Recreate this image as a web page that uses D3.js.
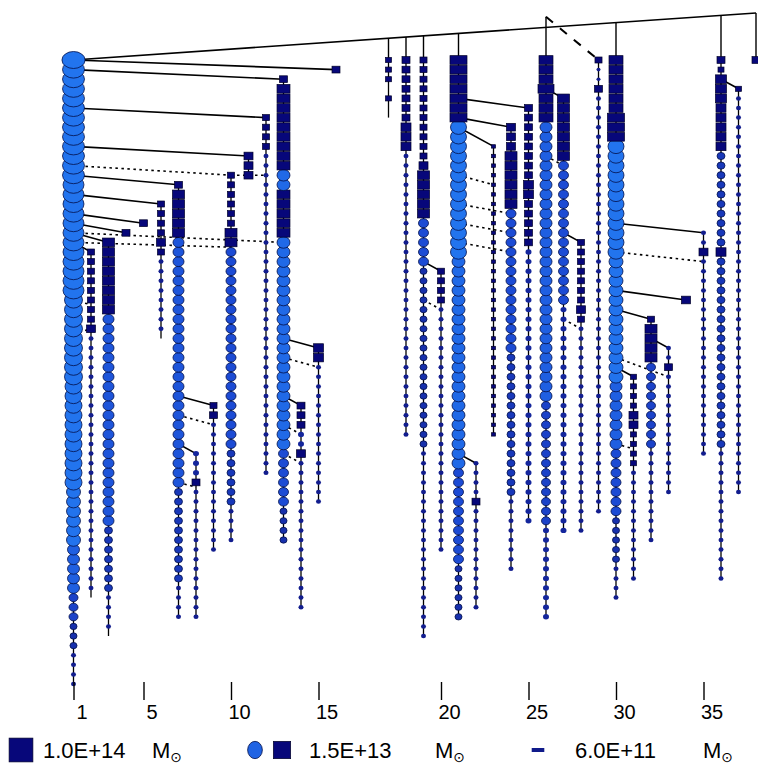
<!DOCTYPE html>
<html><head><meta charset="utf-8">
<script src="https://cdn.jsdelivr.net/npm/d3@7"></script>
<style>body{margin:0;background:#fff}svg{display:block}</style>
</head><body>
<script>
// Branch columns: [slot, first snapshot, last snapshot]
const branches = [
  [1,0,65],[2,20,56],[3,19,60],[4,18,18],[5,17,17],[6,15,29],[7,13,58],[8,41,58],[9,36,51],[10,12,50],
  [11,10,12],[12,6,43],[13,2,50],[14,36,57],[15,30,46],[16,1,1],
  [19,0,6],[20,0,39],[21,0,60],[22,22,51],[23,0,58],[24,42,57],[25,9,39],[26,7,53],[27,5,48],[28,0,58],
  [29,4,49],[30,19,49],[31,0,47],[32,0,56],[33,33,54],[34,27,50],[35,30,45],[36,25,25],[37,18,41],
  [38,0,54],[39,3,45],[40,0,0]
];

// Halo runs along each branch: [slot, from snapshot, to snapshot, shape, mass in Msun]
const segments = [
  [1,0,0,"ci",1.2e15],[1,1,12,"ci",7.7e14],[1,13,24,"ci",5.1e14],[1,25,33,"ci",1.5e14],[1,34,44,"ci",1.0e14],
  [1,45,50,"ci",2.9e13],[1,51,55,"ci",1.3e13],[1,56,58,"ci",3.8e12],[1,59,61,"ci",1.7e12],[1,62,65,"ci",7.4e11],
  [2,20,27,"sq",1.7e12],[2,28,28,"sq",3.8e12],[2,29,55,"ci",7.4e11],
  [3,19,26,"sq",1.3e13],[3,27,48,"ci",8.6e12],[3,49,55,"ci",2.5e12],[3,56,59,"ci",7.4e11],
  [4,18,18,"sq",2.5e12],[5,17,17,"sq",2.5e12],
  [6,15,18,"sq",1.7e12],[6,19,19,"sq",3.8e12],[6,20,20,"sq",1.7e12],[6,21,28,"ci",7.4e11],
  [7,13,13,"sq",2.5e12],[7,14,18,"sq",1.3e13],[7,19,44,"ci",8.6e12],[7,45,54,"ci",2.5e12],[7,55,58,"ci",7.4e11],
  [8,41,43,"ci",1.1e12],[8,44,44,"sq",2.5e12],[8,45,58,"ci",7.4e11],
  [9,36,36,"sq",1.7e12],[9,37,37,"sq",2.5e12],[9,38,51,"ci",7.4e11],
  [10,12,17,"sq",1.7e12],[10,18,19,"sq",1.3e13],[10,20,40,"ci",5.7e12],[10,41,46,"ci",2.5e12],[10,47,50,"ci",7.4e11],
  [11,10,12,"sq",3.8e12],
  [12,6,9,"sq",1.7e12],[12,10,43,"ci",7.4e11],
  [13,2,2,"sq",2.5e12],[13,3,11,"sq",1.9e13],[13,12,13,"ci",1.9e13],[13,14,18,"sq",1.9e13],[13,19,40,"ci",1.9e13],
  [13,41,46,"ci",5.7e12],[13,47,50,"ci",1.7e12],
  [14,36,38,"sq",2.5e12],[14,39,40,"ci",1.1e12],[14,41,41,"sq",3.8e12],[14,42,57,"ci",7.4e11],
  [15,30,31,"sq",5.7e12],[15,32,46,"ci",7.4e11],
  [16,1,1,"sq",2.5e12],
  [19,0,2,"sq",1.1e12],[19,4,4,"sq",1.1e12],
  [20,0,6,"sq",2.5e12],[20,7,9,"sq",5.7e12],[20,10,39,"ci",7.4e11],
  [21,0,10,"sq",1.7e12],[21,11,11,"sq",3.8e12],[21,12,16,"sq",1.3e13],[21,17,21,"ci",5.7e12],[21,22,40,"ci",1.7e12],[21,41,60,"ci",7.4e11],
  [22,22,25,"sq",1.7e12],[22,26,51,"ci",7.4e11],
  [23,0,6,"sq",1.0e14],[23,7,20,"ci",6.6e13],[23,21,42,"ci",1.9e13],[23,43,52,"ci",5.7e12],[23,53,58,"ci",1.7e12],
  [24,42,45,"ci",7.4e11],[24,46,46,"sq",2.5e12],[24,47,57,"ci",7.4e11],
  [25,9,39,"sq",4.9e11],
  [26,7,9,"sq",3.8e12],[26,10,15,"sq",1.3e13],[26,16,30,"ci",5.7e12],[26,31,45,"ci",2.5e12],[26,46,53,"ci",7.4e11],
  [27,5,12,"sq",2.5e12],[27,13,14,"sq",5.7e12],[27,15,19,"sq",2.5e12],[27,20,48,"ci",1.1e12],
  [28,0,2,"sq",2.9e13],[28,3,3,"sq",6.6e13],[28,4,6,"sq",2.9e13],[28,7,35,"ci",1.3e13],[28,36,48,"ci",3.8e12],[28,49,58,"ci",1.1e12],
  [29,4,10,"sq",1.3e13],[29,11,25,"ci",5.7e12],[29,26,49,"ci",1.1e12],
  [30,19,25,"sq",1.7e12],[30,26,26,"sq",3.8e12],[30,27,27,"sq",1.7e12],[30,28,49,"ci",7.4e11],
  [31,0,0,"sq",1.7e12],[31,1,2,"ci",4.9e11],[31,3,3,"sq",2.5e12],[31,4,47,"ci",7.4e11],
  [32,0,5,"sq",2.9e13],[32,6,8,"sq",1.0e14],[32,9,20,"ci",6.6e13],[32,21,33,"ci",2.9e13],[32,34,40,"ci",1.3e13],
  [32,41,47,"ci",5.7e12],[32,48,52,"ci",1.7e12],[32,53,56,"ci",7.4e11],
  [33,33,36,"sq",1.1e12],[33,37,38,"sq",3.8e12],[33,39,42,"sq",1.1e12],[33,43,54,"ci",7.4e11],
  [34,27,27,"sq",1.7e12],[34,28,31,"sq",1.3e13],[34,32,40,"ci",3.8e12],[34,41,50,"ci",7.4e11],
  [35,30,31,"ci",7.4e11],[35,32,32,"sq",2.5e12],[35,33,45,"ci",7.4e11],
  [36,25,25,"sq",3.8e12],
  [37,18,19,"ci",7.4e11],[37,20,20,"sq",3.8e12],[37,21,41,"ci",7.4e11],
  [38,0,0,"sq",2.5e12],[38,1,1,"sq",1.1e12],[38,2,4,"sq",8.6e12],[38,5,9,"sq",5.7e12],[38,10,19,"ci",2.5e12],
  [38,20,20,"sq",5.7e12],[38,21,40,"ci",2.5e12],[38,41,54,"ci",7.4e11],
  [39,3,3,"sq",1.1e12],[39,4,45,"ci",7.4e11],
  [40,0,0,"sq",2.5e12]
];

// Progenitor links: [descendant slot, snapshot, progenitor slot, snapshot, style]
const links = [
  [1,0,16,1,"s"],[1,1,13,2,"s"],[1,5,12,6,"s"],[1,9,11,10,"s"],[1,11,10,12,"d"],[10,12,12,12,"d"],
  [1,12,7,13,"s"],[1,14,6,15,"s"],[1,16,5,17,"s"],[1,17,4,18,"s"],[1,18,3,19,"s"],[1,19,2,20,"s"],
  [1,18,13,19,"d"],[1,19,10,19.5,"d"],[1,25,2,25.5,"d"],[1,28.5,2,28,"d"],
  [7,35,9,36,"s"],[7,37,9,38,"d"],[7,40,8,41,"s"],[7,44,8,44.5,"d"],
  [13,29,15,30,"s"],[13,31,15,32,"d"],[13,35,14,36,"s"],[13,38,14,39,"d"],[13,41,14,42,"d"],
  [21,21,22,22,"s"],[21,25,22,26,"d"],
  [23,4,27,5,"s"],[23,6,26,7,"s"],[23,7,25,9,"s"],[23,12,25,13,"d"],[23,15,26,16,"d"],[23,17,26,18,"d"],
  [23,19,26,20,"d"],[23,41,24,42,"s"],
  [28,3,29,4,"s"],[28,10,29,11,"d"],[29,18,30,19,"s"],[29,27,30,28,"d"],
  [32,17,37,18,"s"],[32,20,37,21,"d"],[32,24,36,25,"s"],[32,26,34,27,"s"],[32,31,35,33,"d"],
  [32,32,33,33,"s"],[32,40,33,40.5,"d"],[34,29,35,30,"s"],
  [38,2,39,3,"s"],
  [28,-4.5,31,0,"D"]
];

// Root branches hanging from the top line, and the raised node of slot 28
const roots = [19,20,21,23,32,38,40];
const raised = [[28,-4.5]];
const spine = [[1,0],[40,-4.9]];

// Axis ticks (slot positions) and their labels
const tickSlots = [1,5,10,15,22,27,32,37];
const tickLabels = ["1","5","10","15","20","25","30","35"];

// Legend entries
const legendMasses = [1.0e14, 1.5e13, 6.0e11];
const legendLabels = ["1.0E+14", "1.5E+13", "6.0E+11"];

const W = 758, H = 774;
const svg = d3.select("body").append("svg").attr("width", W).attr("height", H)
  .style("font-family", "'Liberation Sans', Arial, Helvetica, sans-serif");

const x = d3.scaleLinear().domain([1, 40]).range([73.5, 756]);
const y = d3.scaleLinear().domain([0, 65]).range([60, 684]);
const size = d3.scaleLog().domain([6e11, 1e14]).range([4.5, 17]);
const circleFill = d3.scaleLog().domain([7e11, 5e12, 3e13]).range(["#121c8c", "#1c48d2", "#2274ee"]).clamp(true);
const step = y(1) - y(0);

const lines = svg.append("g").attr("stroke", "#000").attr("fill", "none");

// top line joining all final halos
const spineY = s => y(spine[0][1] + (spine[1][1] - spine[0][1]) * (s - spine[0][0]) / (spine[1][0] - spine[0][0]));
lines.append("line")
  .attr("x1", x(spine[0][0])).attr("y1", y(spine[0][1]))
  .attr("x2", x(spine[1][0])).attr("y2", y(spine[1][1]))
  .attr("stroke-width", 1.6);
lines.selectAll(".root").data(roots).join("line")
  .attr("x1", d => x(d)).attr("x2", d => x(d))
  .attr("y1", d => spineY(d)).attr("y2", y(0)).attr("stroke-width", 1.4);
lines.selectAll(".raised").data(raised).join("line")
  .attr("x1", d => x(d[0])).attr("x2", d => x(d[0]))
  .attr("y1", d => y(d[1])).attr("y2", y(0)).attr("stroke-width", 1.4);

// branch stems
lines.selectAll(".stem").data(branches.filter(b => b[2] > b[1])).join("line")
  .attr("x1", d => x(d[0])).attr("x2", d => x(d[0]))
  .attr("y1", d => y(d[1])).attr("y2", d => y(d[2]))
  .attr("stroke-width", 1.3);

// progenitor links
lines.selectAll(".link").data(links).join("line")
  .attr("x1", d => x(d[0])).attr("y1", d => y(d[1]))
  .attr("x2", d => x(d[2])).attr("y2", d => y(d[3]))
  .attr("stroke-width", d => d[4] === "D" ? 2 : 1.6)
  .attr("stroke-dasharray", d => d[4] === "d" ? "2.5,3.5" : d[4] === "D" ? "9,9" : null);

// halo markers, drawn from the bottom of each branch upward
const marks = [];
segments.forEach(([s, a, b, shape, m]) => {
  for (let k = b; k >= a; k--) marks.push({ s, k, shape, m });
});
marks.sort((p, q) => p.s - q.s || q.k - p.k);

const mg = svg.append("g");
mg.selectAll("g").data(marks).join("g").each(function (d) {
  const g = d3.select(this);
  const w = size(d.m);
  if (d.shape === "sq") {
    const h = Math.min(w * 0.85, step - 0.9);
    g.append("rect")
      .attr("x", x(d.s) - w / 2).attr("y", y(d.k) - h / 2)
      .attr("width", w).attr("height", h)
      .attr("fill", "#07077a").attr("stroke", "#000028").attr("stroke-width", 0.7);
  } else {
    const rx = w / 2, ry = Math.min(rx * 0.9, 8.5);
    g.append("ellipse")
      .attr("cx", x(d.s)).attr("cy", y(d.k)).attr("rx", rx).attr("ry", ry)
      .attr("fill", circleFill(d.m))
      .attr("stroke", w > 6 ? "#04104a" : "none").attr("stroke-width", 0.8);
  }
});

// axis
const axis = d3.axisBottom(x).tickValues(tickSlots)
  .tickFormat((d, i) => tickLabels[i]).tickSize(18).tickPadding(5);
const ag = svg.append("g").attr("transform", "translate(0,682)").call(axis);
ag.select(".domain").remove();
ag.selectAll(".tick line").attr("stroke", "#000").attr("stroke-width", 1.4);
ag.selectAll(".tick text").attr("font-size", 20).attr("fill", "#000").attr("dx", 8)
  .attr("font-family", "'Liberation Sans', Arial, sans-serif");

// legend (markers drawn a little larger than in the tree)
const legSize = m => size(m) * 1.4;
const leg = svg.append("g").attr("font-size", 22).attr("fill", "#000");
const ly = 750;
const legendX = [[21], [255, 282], [538]];
const textX = [43, 309, 575];
const msunX = [152, 435, 703];
{
  const w = legSize(legendMasses[0]);
  leg.append("rect").attr("x", legendX[0][0] - w / 2).attr("y", ly - w / 2)
    .attr("width", w).attr("height", w).attr("fill", "#07077a").attr("stroke", "#000028").attr("stroke-width", 0.7);
}
{
  const w = legSize(legendMasses[1]);
  leg.append("ellipse").attr("cx", legendX[1][0]).attr("cy", ly).attr("rx", w / 2 * 0.85).attr("ry", w / 2)
    .attr("fill", circleFill(legendMasses[1])).attr("stroke", "#04104a").attr("stroke-width", 0.8);
  leg.append("rect").attr("x", legendX[1][1] - w / 2).attr("y", ly - w / 2)
    .attr("width", w).attr("height", w).attr("fill", "#07077a").attr("stroke", "#000028").attr("stroke-width", 0.7);
}
{
  const w = legSize(legendMasses[2]);
  leg.append("rect").attr("x", legendX[2][0] - w).attr("y", ly - 2)
    .attr("width", w * 2).attr("height", 4).attr("fill", "#101a8a");
}
legendLabels.forEach((t, i) => {
  leg.append("text").attr("x", textX[i]).attr("y", ly + 8).text(t);
  const ms = leg.append("text").attr("x", msunX[i]).attr("y", ly + 8);
  ms.append("tspan").text("M");
  ms.append("tspan").attr("font-size", 14).attr("dy", 4).attr("font-family", "'DejaVu Sans', sans-serif").text("⊙");
});
</script>
</body></html>
